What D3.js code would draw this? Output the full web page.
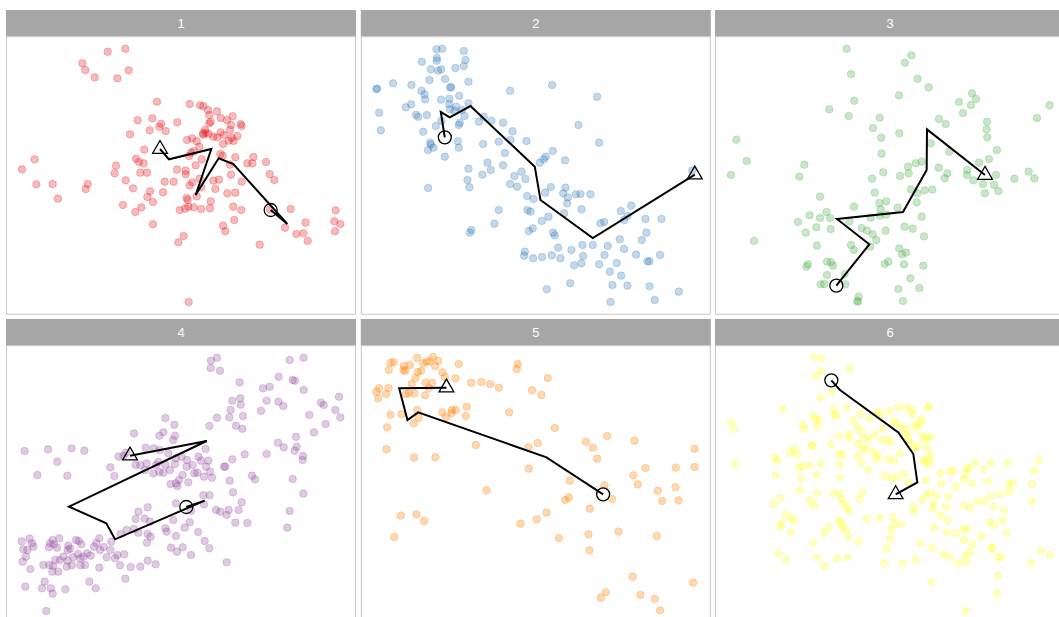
<!DOCTYPE html>
<html><head><meta charset="utf-8">
<script src="https://cdn.jsdelivr.net/npm/d3@7"></script>
<style>html,body{margin:0;padding:0;background:#fff;overflow:hidden}</style>
</head><body>
<svg id="chart" width="1080" height="640"></svg>
<script>
const panelLabels = ["1","2","3","4","5","6"];
const seriesColors = ["#E41A1C","#377EB8","#4DAF4A","#984EA3","#FF7F00","#FFFF33"];
// x / y ranges of the data space shown in each panel
const xDomains = [[18,1068],[18,1068],[30,1080],[18,1068],[18,1068],[30,1080]];
const yDomains = [[110,943],[110,943],[110,943],[107,940],[107,940],[107,940]];

const pts1 = [[323,155],[376,146],[247,190],[256,210],[284,232],[352,235],[386,211],[471,305],[569,312],[600,316],[610,318],[624,330],[651,334],[628,345],[413,361],[457,355],[483,371],[478,380],[497,393],[532,367],[662,354],[681,360],[698,349],[722,372],[725,378],[693,375],[690,390],[662,397],[632,365],[628,370],[615,390],[609,400],[626,402],[640,410],[652,412],[672,405],[695,413],[712,408],[686,422],[701,423],[669,432],[561,420],[576,415],[590,424],[598,440],[610,404],[617,398],[390,403],[449,391],[104,478],[66,508],[109,553],[158,552],[174,596],[263,552],[257,567],[433,449],[408,476],[417,486],[431,490],[348,497],[344,520],[421,518],[441,518],[377,541],[399,565],[450,574],[442,591],[459,606],[489,577],[494,545],[521,545],[531,509],[557,512],[557,523],[569,556],[577,547],[587,496],[605,478],[573,458],[567,468],[581,454],[661,462],[668,467],[706,472],[760,471],[742,490],[757,490],[798,486],[809,522],[823,540],[725,545],[693,524],[690,494],[640,542],[657,539],[646,567],[682,580],[706,578],[604,562],[599,536],[560,594],[563,600],[590,589],[632,604],[369,615],[406,636],[424,622],[539,630],[556,626],[565,620],[581,622],[603,627],[630,625],[700,620],[724,630],[703,660],[669,677],[676,694],[459,673],[551,708],[535,727],[779,734],[810,628],[872,627],[855,683],[889,702],[910,700],[917,668],[923,723],[1007,631],[1003,664],[1021,672],[1005,694],[566,906]];
const pts2 = [[245,148],[262,146],[327,153],[201,185],[246,174],[246,182],[332,180],[228,208],[250,212],[259,208],[302,204],[327,198],[224,240],[271,237],[341,245],[289,262],[286,262],[67,266],[65,267],[115,250],[170,255],[200,272],[209,283],[211,298],[259,299],[284,296],[313,287],[466,272],[592,255],[727,290],[73,338],[153,322],[169,313],[184,344],[190,350],[216,345],[283,312],[285,328],[299,332],[304,320],[321,330],[329,348],[341,310],[78,391],[205,395],[243,378],[260,362],[312,375],[315,368],[372,365],[387,350],[410,362],[445,368],[473,394],[467,420],[432,425],[515,423],[385,432],[309,424],[312,443],[226,428],[228,434],[220,450],[236,443],[270,470],[671,375],[733,428],[594,453],[631,481],[573,470],[567,478],[555,488],[450,459],[445,496],[398,488],[408,510],[383,524],[341,506],[338,540],[344,562],[220,564],[500,515],[512,537],[479,528],[466,552],[487,560],[588,561],[632,563],[571,578],[625,580],[639,592],[663,583],[677,582],[707,583],[637,610],[517,588],[536,597],[680,628],[628,640],[518,630],[527,635],[432,630],[419,671],[350,690],[345,698],[561,663],[581,650],[534,685],[522,693],[595,698],[600,706],[610,743],[650,750],[683,735],[714,735],[737,670],[748,666],[798,633],[818,648],[829,617],[808,660],[872,657],[920,657],[875,698],[861,720],[795,718],[759,738],[808,747],[749,765],[844,764],[733,793],[786,789],[878,784],[884,784],[916,765],[510,755],[508,767],[535,775],[562,771],[591,766],[617,775],[685,768],[680,790],[658,796],[765,815],[799,827],[646,850],[576,868],[773,855],[818,857],[884,859],[767,906],[900,900],[972,875],[1012,512]];
const pts3 = [[425,146],[619,166],[600,188],[438,222],[638,236],[671,262],[582,286],[448,302],[373,328],[431,348],[524,353],[504,384],[529,413],[583,400],[801,280],[813,297],[798,315],[762,306],[774,339],[702,357],[722,372],[846,365],[845,388],[847,412],[876,450],[852,477],[822,488],[996,354],[1034,316],[94,419],[125,483],[78,525],[298,494],[283,530],[530,461],[535,517],[501,536],[585,528],[609,500],[611,520],[632,490],[650,485],[677,430],[733,455],[701,503],[727,520],[719,535],[787,510],[786,525],[805,541],[834,552],[873,525],[867,555],[880,573],[840,580],[928,536],[971,515],[988,535],[509,578],[618,568],[637,580],[659,571],[682,569],[544,604],[523,609],[527,628],[525,647],[497,653],[544,644],[578,623],[635,607],[650,650],[345,590],[447,620],[314,646],[364,636],[345,654],[375,654],[433,664],[279,666],[334,682],[377,687],[302,698],[470,684],[486,692],[503,703],[514,720],[496,740],[542,692],[599,680],[623,686],[657,709],[147,723],[336,737],[438,735],[447,750],[583,745],[591,763],[603,758],[597,793],[539,792],[550,785],[655,797],[309,793],[304,800],[366,785],[378,787],[384,797],[366,825],[419,822],[347,853],[358,852],[421,853],[616,835],[643,864],[580,867],[594,903],[461,890],[457,903],[459,905]];
const pts4 = [[633,152],[651,143],[632,174],[660,182],[869,150],[911,143],[719,217],[836,200],[878,210],[885,212],[911,240],[789,235],[809,230],[697,272],[721,265],[722,284],[800,272],[835,275],[850,288],[783,302],[692,300],[688,322],[729,318],[651,323],[628,348],[708,347],[727,356],[963,278],[971,285],[1017,260],[1006,300],[1021,322],[928,315],[977,342],[942,367],[888,380],[890,410],[884,422],[834,398],[851,412],[800,432],[909,438],[908,450],[734,433],[697,448],[672,470],[676,470],[496,324],[523,344],[478,377],[490,367],[525,377],[519,390],[402,370],[74,423],[144,418],[215,415],[253,422],[172,455],[112,495],[202,497],[331,472],[343,498],[356,440],[371,437],[378,428],[437,413],[461,415],[479,420],[505,430],[527,445],[545,440],[561,450],[595,440],[603,452],[617,417],[625,452],[618,470],[630,485],[636,503],[612,500],[592,488],[583,490],[578,465],[560,470],[548,495],[537,510],[528,520],[512,522],[532,528],[565,517],[510,480],[490,488],[478,486],[460,490],[435,480],[440,460],[475,456],[496,464],[468,465],[525,462],[407,465],[421,465],[689,512],[699,547],[756,497],[765,508],[878,507],[910,551],[725,577],[716,600],[686,600],[648,600],[661,605],[680,615],[706,638],[742,639],[869,603],[862,653],[629,556],[610,556],[612,583],[528,580],[520,630],[554,653],[569,637],[573,602],[496,655],[500,665],[528,678],[594,666],[614,693],[628,715],[573,735],[548,712],[531,725],[513,713],[443,592],[415,605],[407,627],[434,626],[450,635],[443,672],[452,680],[415,668],[402,657],[380,660],[441,698],[362,672],[334,695],[298,685],[289,699],[311,711],[300,720],[282,710],[331,720],[352,735],[373,733],[345,745],[320,742],[360,766],[392,771],[421,770],[443,752],[467,763],[376,806],[680,757],[65,694],[89,686],[96,700],[100,710],[82,720],[70,718],[78,740],[68,755],[91,777],[130,765],[150,700],[158,690],[162,703],[178,685],[147,712],[171,713],[205,707],[203,720],[210,716],[228,690],[236,693],[244,703],[234,732],[219,742],[241,745],[262,730],[250,740],[272,737],[255,765],[242,766],[216,766],[200,770],[180,750],[166,750],[159,768],[175,785],[148,765],[157,785],[268,815],[287,835],[298,773],[76,830],[126,835],[134,815],[152,835],[158,851],[196,838],[139,903],[190,740],[203,752]];
const pts5 = [[107,158],[117,157],[187,143],[235,141],[250,152],[205,160],[216,155],[225,154],[147,167],[165,165],[146,180],[151,183],[102,180],[189,186],[199,183],[241,168],[263,187],[270,200],[302,205],[312,162],[489,162],[486,177],[579,204],[182,204],[171,222],[212,218],[232,218],[222,234],[73,235],[65,245],[101,234],[70,265],[94,252],[153,252],[162,250],[179,250],[211,256],[349,218],[380,216],[406,222],[432,233],[532,241],[560,255],[107,314],[140,312],[177,340],[187,300],[192,323],[262,307],[291,300],[303,300],[290,310],[274,321],[336,290],[333,318],[463,307],[97,352],[600,354],[95,418],[178,443],[242,442],[363,405],[521,412],[549,399],[693,395],[714,413],[727,446],[757,378],[839,392],[522,476],[645,512],[395,541],[631,570],[642,563],[705,596],[749,526],[772,567],[836,496],[849,523],[872,474],[963,473],[909,542],[922,573],[962,532],[971,571],[1019,416],[1019,471],[138,617],[185,613],[208,633],[118,681],[497,641],[546,628],[575,608],[612,684],[701,673],[704,721],[791,665],[906,678],[834,800],[738,863],[753,847],[857,855],[900,867],[916,901],[1015,818]];
const pts6 = [[327,142],[350,146],[434,176],[348,184],[332,197],[379,245],[347,262],[234,298],[386,298],[391,312],[392,320],[424,292],[78,337],[86,357],[91,462],[294,345],[298,355],[324,318],[332,330],[343,330],[336,350],[321,405],[322,408],[378,403],[401,378],[432,385],[434,373],[443,330],[456,350],[465,312],[493,325],[518,305],[528,315],[552,303],[580,292],[605,292],[620,300],[623,313],[650,328],[672,290],[668,292],[565,333],[575,340],[589,350],[603,357],[636,343],[645,340],[630,352],[601,375],[610,383],[650,375],[677,380],[667,383],[614,400],[636,408],[629,415],[659,390],[585,430],[667,415],[676,435],[673,448],[670,465],[661,455],[654,450],[469,363],[476,385],[490,387],[508,373],[533,357],[548,390],[557,398],[531,390],[460,401],[474,415],[485,418],[508,428],[519,436],[549,448],[567,452],[515,448],[458,438],[468,459],[490,480],[403,433],[414,433],[348,462],[403,462],[313,466],[281,472],[293,470],[210,442],[217,452],[254,428],[268,418],[276,432],[212,495],[287,505],[335,495],[405,502],[540,498],[559,505],[574,502],[596,492],[611,518],[662,512],[706,490],[735,484],[745,481],[786,476],[792,475],[811,458],[856,460],[907,458],[1001,451],[989,482],[834,479],[781,492],[777,508],[801,520],[849,515],[912,523],[922,520],[981,522],[913,545],[709,522],[752,530],[730,560],[693,557],[675,548],[664,555],[651,571],[624,590],[628,604],[683,596],[686,582],[723,591],[778,588],[796,592],[817,574],[838,573],[857,559],[885,552],[866,590],[897,600],[980,573],[284,540],[337,550],[386,550],[404,550],[410,568],[414,580],[425,593],[433,603],[472,547],[464,568],[314,572],[327,586],[226,565],[206,582],[242,613],[258,625],[268,632],[229,640],[226,650],[258,667],[372,651],[357,667],[405,633],[406,640],[414,650],[423,660],[431,680],[461,694],[485,627],[524,623],[564,622],[568,643],[588,643],[559,660],[556,686],[545,716],[646,700],[681,712],[687,652],[728,632],[708,617],[726,667],[753,670],[777,657],[786,657],[829,677],[853,637],[868,645],[893,632],[906,668],[777,690],[803,704],[862,712],[860,715],[878,742],[890,741],[795,727],[780,737],[786,755],[761,760],[734,740],[714,733],[632,750],[593,760],[537,760],[428,742],[397,746],[336,743],[358,767],[325,699],[221,730],[243,749],[1009,723],[1035,735],[979,760],[879,797],[876,852],[679,816],[782,903]];

const path1 = [[812,630],[862,672],[700,492],[656,475],[587,585],[634,447],[507,478],[480,447]];
const path2 = [[270,412],[258,336],[285,352],[347,318],[540,500],[557,600],[714,714],[1020,524]];
const path3 = [[394,857],[493,733],[396,657],[594,636],[665,510],[666,388],[840,525]];
const path4 = [[559,591],[614,572],[345,688],[319,640],[207,590],[620,393],[390,437]];
const path5 = [[745,553],[575,442],[190,307],[158,330],[133,235],[275,233]];
const path6 = [[379,211],[405,240],[580,367],[625,432],[637,517],[572,553]];

const allPoints = [pts1, pts2, pts3, pts4, pts5, pts6];
const allPaths = [path1, path2, path3, path4, path5, path6];

const svg = d3.select("#chart");
const panelW = 350, stripH = 26.7, plotH = 277.6;
const colLeft = [6, 360.8, 715];
const rowTop = [10, 319];

panelLabels.forEach((lab, i) => {
  const c = i % 3, r = Math.floor(i / 3);
  const left = colLeft[c], top = rowTop[r];
  const g = svg.append("g");
  g.append("rect").attr("x", left).attr("y", top).attr("width", panelW).attr("height", stripH)
    .attr("fill", "#a6a6a6");
  g.append("text").attr("x", left + panelW/2).attr("y", top + stripH/2 + 4.5)
    .attr("text-anchor","middle").attr("fill","#ffffff")
    .attr("font-family","Liberation Sans, Arial, sans-serif").attr("font-size", 13).text(lab);
  const py = top + stripH;
  g.append("rect").attr("x", left + 0.5).attr("y", py).attr("width", panelW - 1).attr("height", plotH)
    .attr("fill","#ffffff").attr("stroke","#c9c9c9").attr("stroke-width",1);
  const clipId = "clip" + i;
  svg.append("clipPath").attr("id", clipId).append("rect")
    .attr("x", left + 1).attr("y", py).attr("width", panelW - 2).attr("height", plotH);
  const x = d3.scaleLinear().domain(xDomains[i]).range([left, left + panelW]);
  const y = d3.scaleLinear().domain(yDomains[i]).range([py, py + plotH]);
  const pg = g.append("g").attr("clip-path", `url(#${clipId})`);
  pg.selectAll("circle.pt").data(allPoints[i]).join("circle").attr("class","pt")
    .attr("cx", d => x(d[0])).attr("cy", d => y(d[1])).attr("r", 3.8)
    .attr("fill", seriesColors[i]).attr("fill-opacity", 0.3)
    .attr("stroke", seriesColors[i]).attr("stroke-opacity", 0.3).attr("stroke-width", 0.8);
  const p = allPaths[i];
  pg.append("path").attr("d", d3.line().x(d => x(d[0])).y(d => y(d[1]))(p))
    .attr("fill","none").attr("stroke","#000").attr("stroke-width",2).attr("stroke-linejoin","miter");
  const s = p[0], e = p[p.length - 1];
  pg.append("circle").attr("cx", x(s[0])).attr("cy", y(s[1])).attr("r", 6.5)
    .attr("fill","none").attr("stroke","#000").attr("stroke-width",1.3);
  pg.append("path").attr("d", d3.symbol().type(d3.symbolTriangle).size(95)())
    .attr("transform", `translate(${x(e[0])},${y(e[1])})`)
    .attr("fill","none").attr("stroke","#000").attr("stroke-width",1.3);
});
</script>
</body></html>
